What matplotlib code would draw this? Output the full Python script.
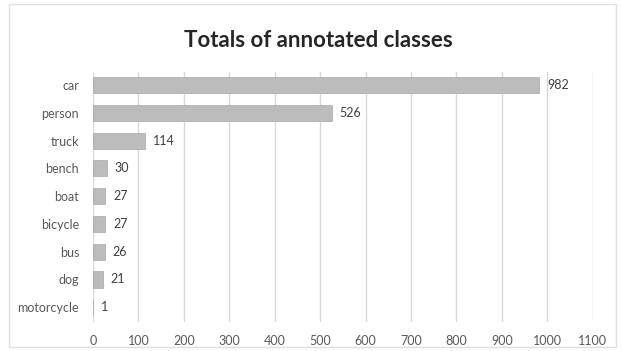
import matplotlib.pyplot as plt
import numpy as np

classes = ['car', 'person', 'truck', 'bench', 'boat', 'bicycle', 'bus', 'dog', 'motorcycle']
totals = [982, 526, 114, 30, 27, 27, 26, 21, 1]
x_ticks = list(range(0, 1101, 100))

plt.rcParams['font.family'] = ['Lato', 'DejaVu Sans']

fig = plt.figure(figsize=(6.22, 3.51), dpi=100)
ax = fig.add_axes([0.1495, 0.0826, 0.8035, 0.7124])

# chart border
fig.patches.append(plt.Rectangle((0.014, 0.01), 0.976, 0.98, transform=fig.transFigure,
                                 fill=False, edgecolor='#e0e0e0', linewidth=1))

y = np.arange(len(classes))
ax.barh(y, totals, height=0.58, color='#bcbcbc', edgecolor='#a8a8a8', linewidth=0.5, zorder=3)

for yi, v in zip(y, totals):
    ax.text(v + 17, yi, str(v), va='center', ha='left', fontsize=9, color='#404040')

ax.set_xlim(0, 1100)
ax.set_ylim(len(classes) - 0.47, -0.47)
ax.set_xticks(x_ticks)
ax.set_yticks(y)
ax.set_yticklabels(classes)
ax.tick_params(length=0, labelsize=9, labelcolor='#595959')
ax.tick_params(axis='x', pad=9)
ax.tick_params(axis='y', pad=10)
ax.grid(axis='x', color='#d9d9d9', linewidth=1, zorder=0)
for s in ax.spines.values():
    s.set_visible(False)

fig.text(0.512, 0.885, 'Totals of annotated classes', ha='center', va='center',
         fontsize=16, fontweight='bold', color='#262626')

plt.savefig('out.png', dpi=100)
